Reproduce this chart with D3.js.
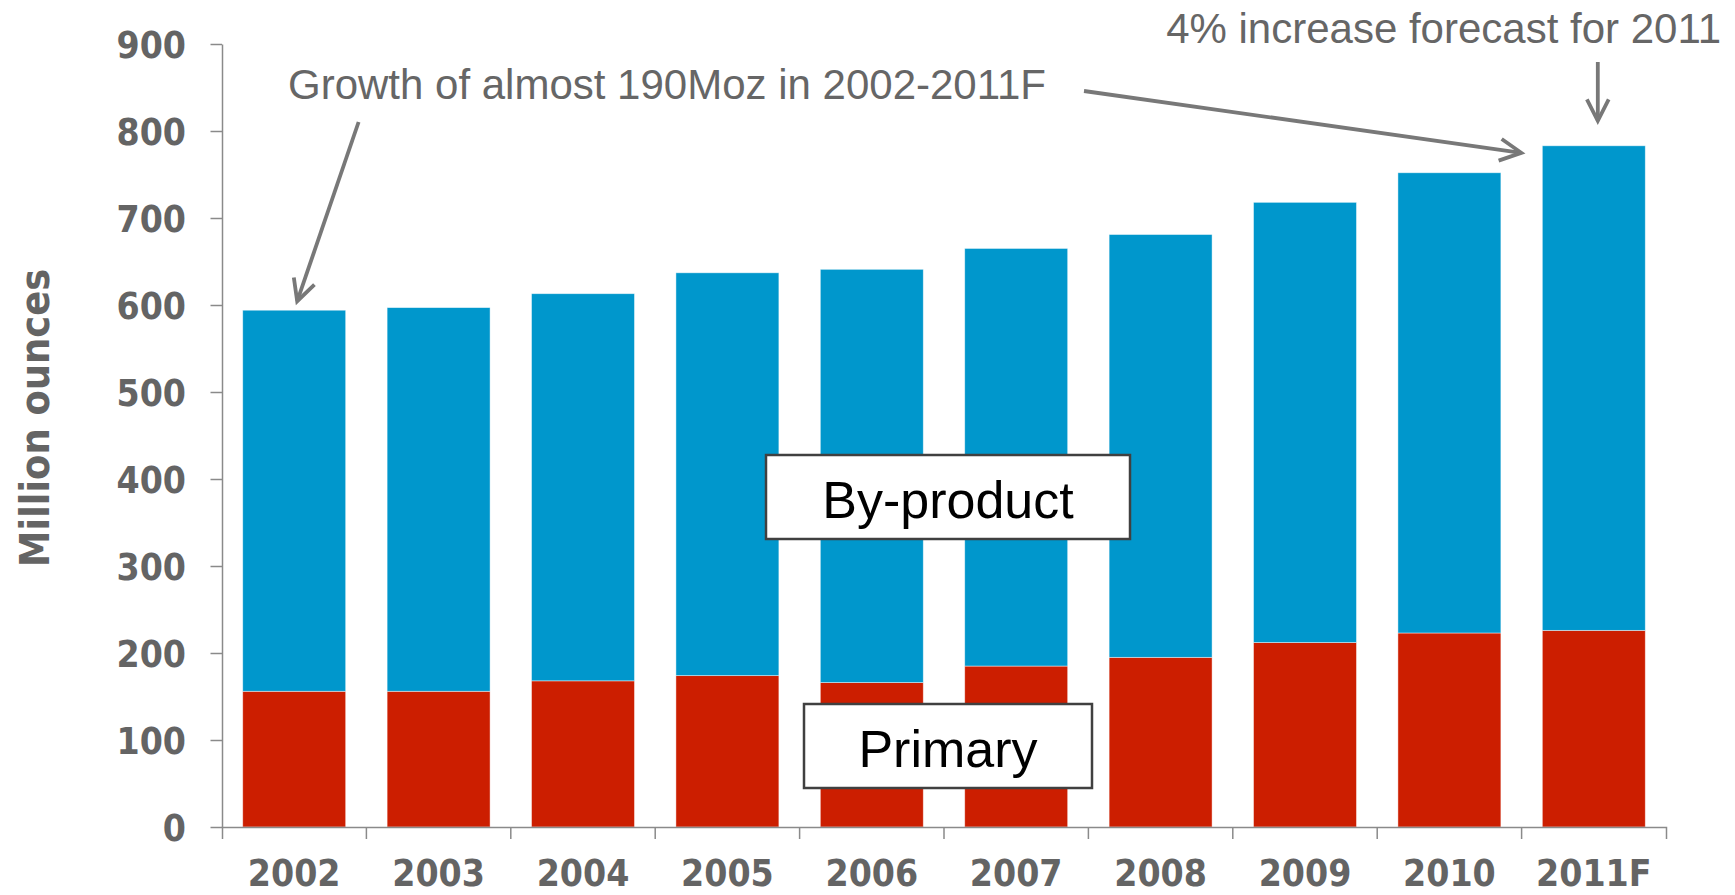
<!DOCTYPE html>
<html>
<head>
<meta charset="utf-8">
<script src="https://cdn.jsdelivr.net/npm/d3@7"></script>
<style>
  html, body { margin: 0; padding: 0; background: #fff; }
  svg { display: block; }
</style>
</head>
<body>
<svg id="chart" width="1735" height="895"></svg>
<script>
// ---- data ----
const categories = ["2002","2003","2004","2005","2006","2007","2008","2009","2010","2011F"];
const primary    = [156, 156, 168, 174, 166, 185, 195, 212, 223, 226];
const byProduct  = [438, 441, 445, 463, 475, 480, 486, 506, 529, 557];
const yTicks     = [0, 100, 200, 300, 400, 500, 600, 700, 800, 900];
const seriesNames = ["Primary", "By-product"];
const seriesColors = ["#CC1E00", "#0097CC"];
const yTitle = "Million ounces";
const note1 = "Growth of almost 190Moz in 2002-2011F";
const note2 = "4% increase forecast for 2011";

(function () {
// ---- layout ----
const svg = d3.select("#chart");
const mLeft = 222, mRight = 1666, mTop = 44, mBottom = 827;
const axisColor = "#8a8a8a";
const labelFont = "'DejaVu Sans Condensed', 'DejaVu Sans', sans-serif";
const noteFont = "'Liberation Sans', Arial, sans-serif";

const x = d3.scaleBand().domain(categories).range([mLeft, mRight])
  .paddingInner(0.287).paddingOuter(0.1435);
const y = d3.scaleLinear().domain([0, 900]).range([mBottom, mTop]);

const rows = categories.map((c, i) => ({cat: c, Primary: primary[i], "By-product": byProduct[i]}));
const stacked = d3.stack().keys(seriesNames)(rows);

// bars
svg.append("g").selectAll("g").data(stacked).join("g")
  .attr("fill", (d, i) => seriesColors[i])
  .selectAll("rect").data(d => d).join("rect")
  .attr("x", d => x(d.data.cat))
  .attr("width", x.bandwidth())
  .attr("y", d => y(d[1]))
  .attr("height", d => y(d[0]) - y(d[1]))
  .attr("stroke", "rgba(255,255,255,0.55)")
  .attr("stroke-width", 0.8);

// y axis
const yAxis = svg.append("g").attr("transform", `translate(${mLeft},0)`)
  .call(d3.axisLeft(y).tickValues(yTicks).tickSize(11.5).tickSizeOuter(0).tickPadding(24.5));
yAxis.selectAll("path, line").attr("stroke", axisColor).attr("stroke-width", 1.5);
yAxis.selectAll("text")
  .attr("fill", "#646464").attr("font-family", labelFont).attr("font-weight", "bold")
  .style("font-stretch", "condensed").attr("font-size", 37).attr("dy", "0.36em");

// x axis
const xAxis = svg.append("g").attr("transform", `translate(0,${mBottom})`)
  .call(d3.axisBottom(x).tickSize(0).tickSizeOuter(12).tickPadding(33));
xAxis.select("path.domain").attr("stroke", axisColor).attr("stroke-width", 1.5);
xAxis.selectAll("text")
  .attr("fill", "#646464").attr("font-family", labelFont).attr("font-weight", "bold")
  .style("font-stretch", "condensed").attr("font-size", 37);
// category boundary ticks
const half = x.step() * x.paddingInner() / 2;
svg.append("g").selectAll("line").data(categories.slice(1)).join("line")
  .attr("x1", d => x(d) - half).attr("x2", d => x(d) - half)
  .attr("y1", mBottom).attr("y2", mBottom + 12)
  .attr("stroke", axisColor).attr("stroke-width", 1.5);

// y title
svg.append("text")
  .attr("transform", `translate(49,418) rotate(-90)`)
  .attr("text-anchor", "middle")
  .attr("fill", "#646464").attr("font-family", labelFont).attr("font-weight", "bold")
  .style("font-stretch", "condensed").attr("font-size", 41)
  .text(yTitle);

// annotations
const arrowColor = "#787878";
function arrow(x1, y1, x2, y2) {
  const a = Math.atan2(y2 - y1, x2 - x1);
  const L = 24, h = 27 * Math.PI / 180;
  const w1 = [x2 - L * Math.cos(a - h), y2 - L * Math.sin(a - h)];
  const w2 = [x2 - L * Math.cos(a + h), y2 - L * Math.sin(a + h)];
  svg.append("line").attr("x1", x1).attr("y1", y1).attr("x2", x2).attr("y2", y2)
    .attr("stroke", arrowColor).attr("stroke-width", 3.8);
  svg.append("path").attr("d", `M${w1[0]},${w1[1]}L${x2},${y2}L${w2[0]},${w2[1]}`)
    .attr("fill", "none").attr("stroke", arrowColor).attr("stroke-width", 3.8)
    .attr("stroke-linejoin", "miter");
}
const last = categories.length - 1;
const total = i => primary[i] + byProduct[i];

svg.append("text").attr("x", 288).attr("y", 99)
  .attr("font-family", noteFont).attr("font-size", 42).attr("fill", "#666")
  .text(note1);
svg.append("text").attr("x", 1721).attr("y", 43).attr("text-anchor", "end")
  .attr("font-family", noteFont).attr("font-size", 42).attr("fill", "#666")
  .text(note2);

arrow(358.6, 122, x(categories[0]) + x.bandwidth() / 2 + 3, y(total(0)) - 9);
arrow(1084, 91, x(categories[last]) - 21, y(total(last)) + 7);
arrow(x(categories[last]) + x.bandwidth() / 2 + 4, 62, x(categories[last]) + x.bandwidth() / 2 + 4, y(total(last)) - 25);

// series label boxes
function labelBox(x0, y0, w, h, txt, baseline) {
  svg.append("rect").attr("x", x0).attr("y", y0).attr("width", w).attr("height", h)
    .attr("fill", "#fff").attr("stroke", "#404040").attr("stroke-width", 2.5);
  svg.append("text").attr("x", x0 + w / 2).attr("y", baseline)
    .attr("text-anchor", "middle").attr("font-family", noteFont)
    .attr("font-size", 52).attr("fill", "#000").text(txt);
}
labelBox(766, 455, 364, 84, seriesNames[1], 518);
labelBox(804, 704, 288, 84, seriesNames[0], 767);
})();
</script>
</body>
</html>
